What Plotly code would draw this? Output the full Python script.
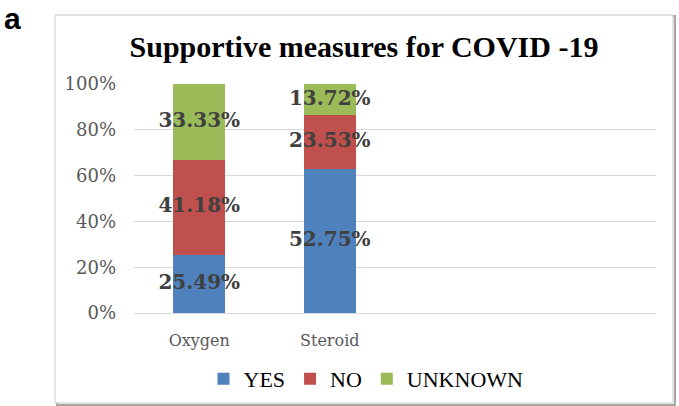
import numpy as np
import plotly.graph_objects as go

categories = ["Oxygen", "Steroid"]
series_names = ["YES", "NO", "UNKNOWN"]
yes_vals = [25.49, 62.75]
no_vals = [41.18, 23.53]
unknown_vals = [33.33, 13.72]
yes_labels = ["25.49%", "52.75%"]
no_labels = ["41.18%", "23.53%"]
unknown_labels = ["33.33%", "13.72%"]
y_ticks = [0, 20, 40, 60, 80, 100]
y_ticktext = ["0%", "20%", "40%", "60%", "80%", "100%"]
colors = ["#4f81bd", "#c0504d", "#9bbb59"]

W, H = 679, 406
L, R, T, B = 134, 23, 84, 93
pw, ph = W - L - R, H - T - B

def px_x(px):
    return (px - L) / pw

def px_y(py):
    return (H - B - py) / ph

xpos = np.arange(len(categories))
vals = [yes_vals, no_vals, unknown_vals]
labels = [yes_labels, no_labels, unknown_labels]

SERIF = "Liberation Serif"

fig = go.Figure()
bottom = np.zeros(len(categories))
for name, v, c in zip(series_names, vals, colors):
    fig.add_trace(go.Bar(x=xpos, y=v, name=name, marker=dict(color=c, line=dict(width=0)),
                         width=0.4, hoverinfo="skip"))
for v, lab in zip(vals, labels):
    v = np.array(v)
    centers = bottom + v / 2
    fig.add_trace(go.Scatter(x=xpos, y=centers, mode="text", text=lab, showlegend=False,
                             textfont=dict(family="DejaVu Serif", size=20, color="#404040",
                                           weight="bold"),
                             hoverinfo="skip"))
    bottom = bottom + v

fig.update_layout(
    barmode="stack",
    width=W, height=H,
    margin=dict(l=L, r=R, t=T, b=B, autoexpand=False),
    font=dict(family=SERIF, size=22, color="black"),
    paper_bgcolor="white", plot_bgcolor="white",
    title=dict(text="<b>Supportive measures for COVID -19</b>", x=364 / W, xref="container",
               xanchor="center", y=1 - 46 / H, yref="container", yanchor="middle",
               font=dict(family=SERIF, size=30, color="black")),
    xaxis=dict(range=[-0.5, 3.5], tickvals=list(xpos), ticktext=categories, showgrid=False,
               zeroline=False, showline=True, linecolor="#d9d9d9", linewidth=1,
               ticks="", ticklabelstandoff=13, automargin=False,
               tickfont=dict(family="DejaVu Serif", size=16, color="#595959")),
    yaxis=dict(range=[0, 100], tickmode="array", tickvals=y_ticks, ticktext=y_ticktext,
               showgrid=True, gridcolor="#d9d9d9", gridwidth=1, zeroline=False, showline=False,
               ticks="", ticklabelstandoff=17, automargin=False,
               tickfont=dict(family="DejaVu Serif", size=18, color="#595959")),
    legend=dict(orientation="h", x=px_x(366), xanchor="center", y=px_y(379), yanchor="middle",
                font=dict(family=SERIF, size=22, color="black"),
                itemclick=False, traceorder="normal", itemwidth=30),
    shapes=[
        dict(type="rect", xref="paper", yref="paper", x0=px_x(57), x1=px_x(675), y0=px_y(405),
             y1=px_y(16), line=dict(color="#a6a6a6", width=2), fillcolor="rgba(0,0,0,0)",
             layer="below"),
        dict(type="rect", xref="paper", yref="paper", x0=px_x(55), x1=px_x(673), y0=px_y(403),
             y1=px_y(15), line=dict(color="#c8c8c8", width=1), fillcolor="white",
             layer="below"),
    ],
    annotations=[
        dict(text="<b>a</b>", xref="paper", yref="paper", x=px_x(12), y=px_y(19),
             xanchor="center", yanchor="middle", showarrow=False,
             font=dict(family="Liberation Sans", size=30, color="black")),
    ],
)

fig.write_html("out.html")
